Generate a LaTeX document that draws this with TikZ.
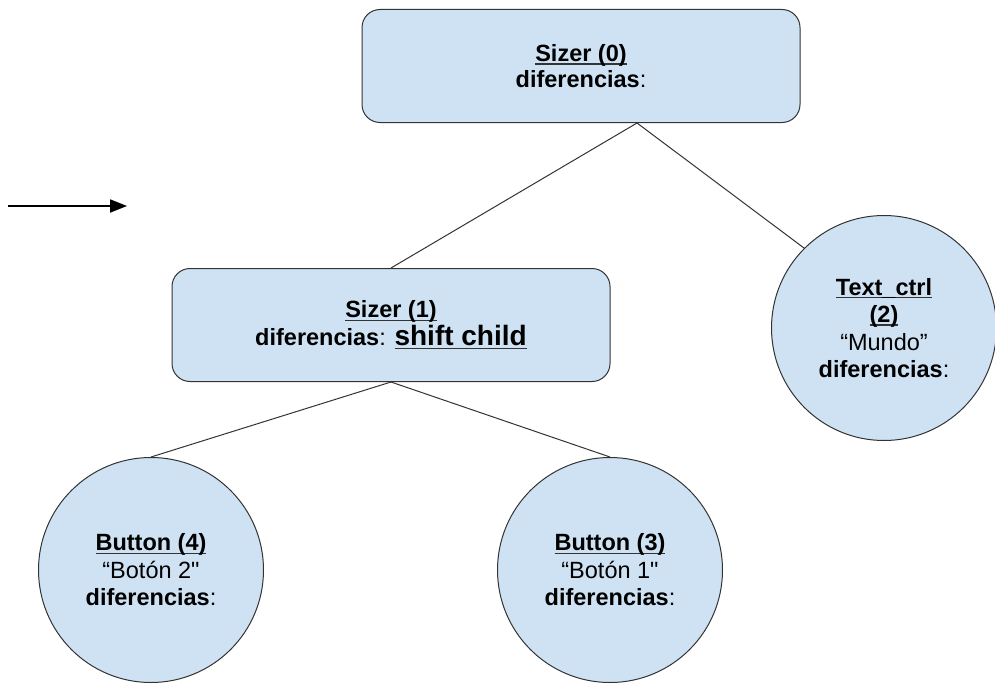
\documentclass[tikz,border=0pt]{standalone}
\usepackage{fontspec}
\setmainfont{Liberation Sans}[Ligatures=TeXOff]
\usetikzlibrary{arrows.meta}
\definecolor{boxfill}{HTML}{CFE2F3}
\definecolor{linec}{HTML}{333333}
\newsavebox\ulbox
\newcommand\ulin[1]{\sbox\ulbox{#1}\rlap{\color{linec}\rule[-3.2pt]{\wd\ulbox}{1.5pt}}\usebox\ulbox}
\tikzset{
  rbox/.style={draw=linec, fill=boxfill, rounded corners=18pt, minimum width=438pt,
    minimum height=113pt, align=center, line width=1pt, inner sep=0pt,
    font=\fontsize{23.5}{26}\selectfont},
  cbox/.style={draw=linec, fill=boxfill, circle, minimum size=225pt, inner sep=0pt,
    align=center, line width=1pt, font=\fontsize{23.5}{27.5}\selectfont},
  conn/.style={line width=1pt, draw=linec},
}
\begin{document}
\begin{tikzpicture}[x=1pt,y=-1pt]
\useasboundingbox (0,0) rectangle (995,685);
\node[rbox] (s0) at (581,66) {\ulin{\textbf{Sizer (0)}}\\\textbf{diferencias}:};
\node[rbox] (s1) at (391,325) {\ulin{\textbf{Sizer (1)}}\\[2pt]\textbf{diferencias}: {\fontsize{28}{30}\selectfont\ulin{\textbf{shift child}}}};
\node[cbox] (tc) at (884,328) {\ulin{\textbf{Text\_ctrl}}\\\ulin{\textbf{(2)}}\\“Mundo”\\\textbf{diferencias}:};
\node[cbox] (b4) at (151,570) {\ulin{\textbf{Button (4)}}\\“Botón 2"\\\textbf{diferencias}:};
\node[cbox] (b3) at (610,570) {\ulin{\textbf{Button (3)}}\\“Botón 1"\\\textbf{diferencias}:};
\coordinate (a1) at (8,206);
\coordinate (a2) at (127,206);
\draw[line width=1.8pt, -{Triangle[length=17pt,width=13pt]}] (a1) -- (a2);
\draw[conn] ([xshift=56pt]s0.south) -- (s1.north);
\draw[conn] ([xshift=56pt]s0.south) -- (tc.135);
\draw[conn] (s1.south) -- (b4.north);
\draw[conn] (s1.south) -- (b3.north);
\end{tikzpicture}
\end{document}
